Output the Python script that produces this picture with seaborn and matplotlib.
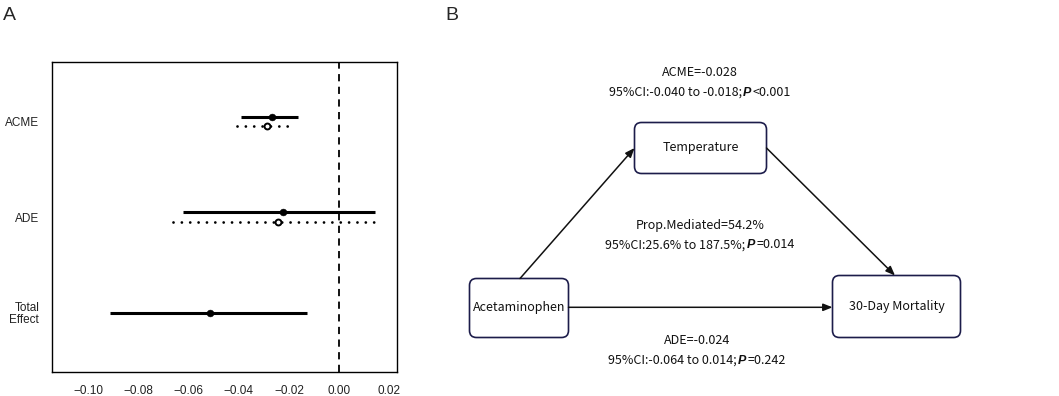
import matplotlib
matplotlib.use("Agg")
import matplotlib.pyplot as plt
import seaborn as sns
import pandas as pd
from matplotlib.patches import FancyBboxPatch
from matplotlib.offsetbox import TextArea, HPacker, AnnotationBbox

# effect estimates (solid = control, dotted = treated)
effects = ['ACME', 'ADE', 'Total\nEffect']
pos = [3, 2, 1]
est_solid = [-0.0269, -0.0225, -0.0515]
lo_solid = [-0.0392, -0.0621, -0.0913]
hi_solid = [-0.0163, 0.0143, -0.0127]
est_dot = [-0.0289, -0.0245]
lo_dot = [-0.0408, -0.0663]
hi_dot = [-0.0193, 0.0147]
xticks = [-0.10, -0.08, -0.06, -0.04, -0.02, 0.00, 0.02]

# path diagram text for panel B
nodes = ['Acetaminophen', 'Temperature', '30-Day Mortality']
acme_txt = ['ACME=-0.028', ('95%CI:-0.040 to -0.018;', '<0.001')]
prop_txt = ['Prop.Mediated=54.2%', ('95%CI:25.6% to 187.5%;', '=0.014')]
ade_txt = ['ADE=-0.024', ('95%CI:-0.064 to 0.014;', '=0.242')]

sns.set_style('white')
plt.rcParams['font.family'] = ['Liberation Sans', 'DejaVu Sans']

fig = plt.figure(figsize=(10.59, 3.96), dpi=100)

# ---- panel A: forest plot
ax = fig.add_axes([0.0488, 0.0606, 0.3261, 0.7828])
solid = pd.DataFrame({'est': est_solid, 'y': [p + 0.05 if i < 2 else p for i, p in enumerate(pos)]})
dot = pd.DataFrame({'est': est_dot, 'y': [p - 0.05 for p in pos[:2]]})
ax.hlines(solid['y'], lo_solid, hi_solid, color='black', lw=2.2)
dl = ax.hlines(dot['y'], lo_dot, hi_dot, color='black', lw=2.0, linestyles=(0, (0.01, 3.0)))
dl.set_capstyle('round')
sns.scatterplot(data=solid, x='est', y='y', ax=ax, color='black', s=24, edgecolor='black', zorder=3)
sns.scatterplot(data=dot, x='est', y='y', ax=ax, color='white', s=18, edgecolor='black', linewidth=1.4, zorder=3)
ax.axvline(0, color='black', lw=1.3, ls=(0, (4, 3)))
ax.set_xlim(-0.1146, 0.0231)
ax.set_ylim(0.38, 3.625)
ax.set_xticks(xticks)
ax.set_xticklabels([('%.2f' % t).replace('-', '\u2212') for t in xticks], fontsize=8.5, color='#222222')
ax.set_yticks(pos)
ax.set_yticklabels(effects, fontsize=8.5, linespacing=1.0, color='#222222')
ax.tick_params(direction='out', length=4, width=1.0, color='black', pad=5)
ax.set_xlabel('')
ax.set_ylabel('')
for sp in ax.spines.values():
    sp.set_color('black')
    sp.set_linewidth(1.0)
fig.text(0.003, 0.95, 'A', fontsize=14, ha='left', va='baseline')

# ---- panel B: mediation path diagram (pixel coordinates)
bx = fig.add_axes([0, 0, 1, 1])
bx.set_xlim(0, 1059)
bx.set_ylim(396, 0)
bx.axis('off')
bx.set_zorder(-1)
fig.text(0.421, 0.95, 'B', fontsize=14, ha='left', va='baseline')

cjk = ['Noto Sans CJK SC', 'DejaVu Sans']
edge = '#1c1c4a'
boxes = {
    'Acetaminophen': (469.5, 278.5, 99, 59),
    'Temperature': (634.5, 122.5, 132, 51),
    '30-Day Mortality': (832.5, 275.5, 128, 62),
}
for name in nodes:
    x0, y0, w, h = boxes[name]
    bx.add_patch(FancyBboxPatch((x0, y0), w, h, boxstyle='round,pad=0,rounding_size=7',
                                fc='white', ec=edge, lw=1.2))
    bx.text(x0 + w / 2, y0 + h / 2, name, ha='center', va='center', fontsize=9,
            family=cjk, color='#111111')

arrow = dict(arrowstyle='-|>,head_length=0.55,head_width=0.22', color='#111111', lw=1.1,
             shrinkA=0, shrinkB=0)
bx.annotate('', xy=(634.5, 148), xytext=(520, 278.5), arrowprops=arrow)
bx.annotate('', xy=(895, 275.5), xytext=(766.5, 148), arrowprops=arrow)
bx.annotate('', xy=(832.5, 307.3), xytext=(568.5, 307.3), arrowprops=arrow)


def label(lines, x, y1, y2):
    bx.text(x, y1, lines[0], ha='center', va='center', fontsize=9, family=cjk, color='#111111')
    a, b = lines[1]
    parts = [TextArea(a, textprops=dict(fontsize=9, family=cjk, color='#111111')),
             TextArea('P', textprops=dict(fontsize=9, family=['Liberation Sans'], color='#111111',
                                           weight='bold', style='italic')),
             TextArea(b, textprops=dict(fontsize=9, family=cjk, color='#111111'))]
    pack = HPacker(children=parts, align='baseline', pad=0, sep=0.8)
    ab = AnnotationBbox(pack, (x, y2), xycoords='data', frameon=False, box_alignment=(0.5, 0.5))
    bx.add_artist(ab)


label(acme_txt, 700, 72.5, 92.5)
label(prop_txt, 700, 225.5, 245)
label(ade_txt, 697, 340, 360)

fig.savefig('out.png', dpi=100)
